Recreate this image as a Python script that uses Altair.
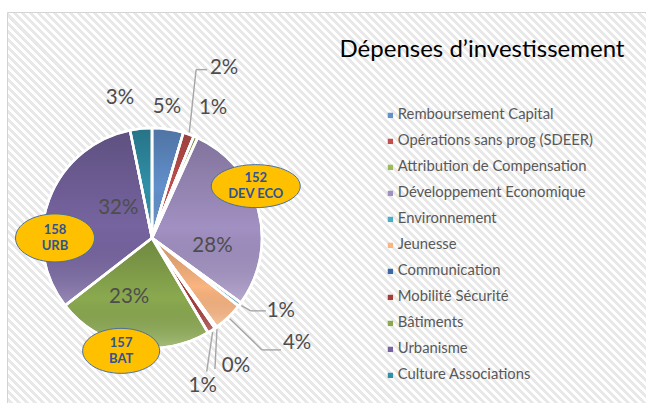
import altair as alt
import pandas as pd

# ---------------- data ----------------
categories = [
    "Remboursement Capital",
    "Opérations sans prog (SDEER)",
    "Attribution de Compensation",
    "Développement Economique",
    "Environnement",
    "Jeunesse",
    "Communication",
    "Mobilité Sécurité",
    "Bâtiments",
    "Urbanisme",
    "Culture Associations",
]
values = [4.6, 1.6, 0.6, 28.2, 0.6, 4.4, 0.3, 1.2, 23.0, 32.3, 3.2]
pct_labels = ["5%", "2%", "1%", "28%", "1%", "4%", "0%", "1%", "23%", "32%", "3%"]
colors = ["#6290cc", "#c0504d", "#9bbb59", "#a190c2", "#4bacc6", "#f9b480",
          "#3a69a6", "#a43e3b", "#8aa94f", "#7664a0", "#3090a8"]
callout_categories = ["Développement Economique", "Bâtiments", "Urbanisme"]
callout_amounts = ["152", "157", "158"]
callout_codes = ["DEV ECO", "BAT", "URB"]
chart_title = "Dépenses d’investissement"

notes = {c: a + "\n" + k for c, a, k in zip(callout_categories, callout_amounts, callout_codes)}
df = pd.DataFrame({
    "cat": categories,
    "value": values,
    "lab": pct_labels,
    "order": list(range(len(categories))),
    "note": [notes.get(c, "") for c in categories],
})

# ---------------- layout / style ----------------
CX, CY, R = 152, 238, 110
FONT = "Lato"

# percentage label placement: radius, angular offset (deg) from slice middle
label_layout = {
    "Remboursement Capital": (132, -1.8),
    "Opérations sans prog (SDEER)": (185, 3.5),
    "Attribution de Compensation": (144, 1.7),
    "Développement Economique": (61, 22.3),
    "Environnement": (148, -7.6),
    "Jeunesse": (179, -10.2),
    "Communication": (153, 2.2),
    "Mobilité Sécurité": (156, 13.8),
    "Bâtiments": (63, 10.5),
    "Urbanisme": (45, 21.1),
    "Culture Associations": (144, -7.1),
}
# leader lines: elbow offset and end offset relative to label centre
leader_layout = {
    "Opérations sans prog (SDEER)": ((-28, 2), (-17, 2)),
    "Environnement": ((-30, 0), (-15, 0)),
    "Jeunesse": ((-35, 7), (-16, 7)),
    "Communication": ((-21, 3), (-21, 3)),
    "Mobilité Sécurité": ((4, -14), (4, -14)),
}
# callouts: radius, offset, width, height
callout_layout = {
    "Développement Economique": (116, -11.8, 89, 43),
    "Bâtiments": (117, 4.5, 77, 45),
    "Urbanisme": (97, -20.3, 79, 48),
}


def polar(r, off):
    ang = f"((datum.fm * 360 + ({off})) * PI / 180)"
    return f"{CX} + {r} * sin({ang})", f"{CY} - {r} * cos({ang})"


def ellipse_path(w, h):
    b = h / w
    k = 0.5523
    return (f"M -1 0 C -1 {-k*b:.4f} {-k:.4f} {-b:.4f} 0 {-b:.4f} "
            f"C {k:.4f} {-b:.4f} 1 {-k*b:.4f} 1 0 "
            f"C 1 {k*b:.4f} {k:.4f} {b:.4f} 0 {b:.4f} "
            f"C {-k:.4f} {b:.4f} -1 {k*b:.4f} -1 0 Z")


base = alt.Chart(df).transform_joinaggregate(
    total="sum(value)"
).transform_window(
    cum="sum(value)", sort=[alt.SortField("order")], frame=[None, 0]
).transform_calculate(
    f0="(datum.cum - datum.value) / datum.total",
    f1="datum.cum / datum.total",
    fm="(datum.cum - datum.value / 2) / datum.total",
)

theta_scale = alt.Scale(domain=[0, 1])

# background with diagonal stripes
N = 160
stops = []
for i in range(N):
    stops += [
        {"offset": i / N, "color": "#ffffff"},
        {"offset": (i + 0.5) / N, "color": "#ffffff"},
        {"offset": (i + 0.5) / N, "color": "#e8e8e8"},
        {"offset": (i + 1) / N, "color": "#e8e8e8"},
    ]
bg = alt.Chart(pd.DataFrame({"k": [0]})).mark_rect(
    fill={"gradient": "linear", "x1": 0, "y1": 1, "x2": 1, "y2": 0, "stops": stops},
    stroke="#d4d4d4", strokeWidth=1,
).encode(x=alt.value(7.5), y=alt.value(12.5), x2=alt.value(648), y2=alt.value(653))

arcs = base.mark_arc(radius=R, stroke="white", strokeWidth=2.5).encode(
    theta=alt.Theta("f0:Q", scale=theta_scale),
    theta2="f1:Q",
    color=alt.Color(
        "cat:N",
        scale=alt.Scale(domain=categories, range=colors),
        legend=alt.Legend(
            title=None, orient="none", legendX=380, legendY=108,
            symbolType="square", symbolSize=28, symbolStrokeWidth=0, symbolOffset=3,
            labelFont=FONT, labelFontSize=14.8, labelColor="#595959",
            labelLimit=400, rowPadding=10, labelOffset=0,
        ),
    ),
    order=alt.Order("order:Q"),
    x=alt.value(CX), y=alt.value(CY),
)

shade = {"gradient": "linear", "x1": 0, "y1": 0, "x2": 0, "y2": 1,
         "stops": [{"offset": 0, "color": "rgba(0,0,0,0.2)"},
                   {"offset": 0.55, "color": "rgba(0,0,0,0)"},
                   {"offset": 1, "color": "rgba(255,255,255,0.25)"}]}
overlay = base.mark_arc(radius=R, fill=shade, stroke="white", strokeWidth=2.5).encode(
    theta=alt.Theta("f0:Q", scale=theta_scale),
    theta2="f1:Q",
    x=alt.value(CX), y=alt.value(CY),
)

layers = [bg, arcs, overlay]

# leader lines
for cat, ((ex, ey), (hx, hy)) in leader_layout.items():
    lr, loff = label_layout[cat]
    lx, ly = polar(lr, loff)
    sx, sy = polar(R + 2, 0)
    seg = base.transform_filter(alt.datum.cat == cat).transform_calculate(
        sx=sx, sy=sy, lx=lx, ly=ly,
    ).transform_calculate(
        ex=f"datum.lx + ({ex})", ey=f"datum.ly + ({ey})",
        hx=f"datum.lx + ({hx})", hy=f"datum.ly + ({hy})",
    )
    layers.append(seg.mark_rule(color="#a6a6a6", strokeWidth=1.4).encode(
        x=alt.X("sx:Q", scale=None), y=alt.Y("sy:Q", scale=None),
        x2="ex:Q", y2="ey:Q"))
    layers.append(seg.mark_rule(color="#a6a6a6", strokeWidth=1.4).encode(
        x=alt.X("ex:Q", scale=None), y=alt.Y("ey:Q", scale=None),
        x2="hx:Q", y2="hy:Q"))

# percentage labels
for cat, (lr, loff) in label_layout.items():
    lx, ly = polar(lr, loff)
    layers.append(
        base.transform_filter(alt.datum.cat == cat)
        .transform_calculate(lx=lx, ly=ly)
        .mark_text(font=FONT, fontSize=20.5, color="#4d4d4d", align="center", baseline="middle")
        .encode(x=alt.X("lx:Q", scale=None), y=alt.Y("ly:Q", scale=None), text="lab:N")
    )

# callouts
for cat, (cr, coff, w, h) in callout_layout.items():
    cx, cy = polar(cr, coff)
    c = base.transform_filter(alt.datum.cat == cat).transform_calculate(cx=cx, cy=cy)
    layers.append(
        c.mark_point(shape=ellipse_path(w, h), size=w * w, filled=True, fill="#ffc000",
                     stroke="#4a6f9c", strokeWidth=1, opacity=1)
        .encode(x=alt.X("cx:Q", scale=None), y=alt.Y("cy:Q", scale=None))
    )
    layers.append(
        c.mark_text(font=FONT, fontSize=13, fontWeight="bold", color="#2f5496",
                    align="center", baseline="middle", lineBreak="\n", lineHeight=16, dy=-8)
        .encode(x=alt.X("cx:Q", scale=None), y=alt.Y("cy:Q", scale=None), text="note:N")
    )

title = alt.Chart(pd.DataFrame({"t": [chart_title]})).mark_text(
    font=FONT, fontSize=24, color="#000000", align="center", baseline="alphabetic"
).encode(text="t:N", x=alt.value(482), y=alt.value(57))
layers.append(title)

chart = alt.layer(*layers).properties(
    width=646, height=403, autosize="none", padding=0, background="white"
).configure_view(stroke=None)

chart.save("out.html", embed_options={"renderer": "svg", "actions": False})
